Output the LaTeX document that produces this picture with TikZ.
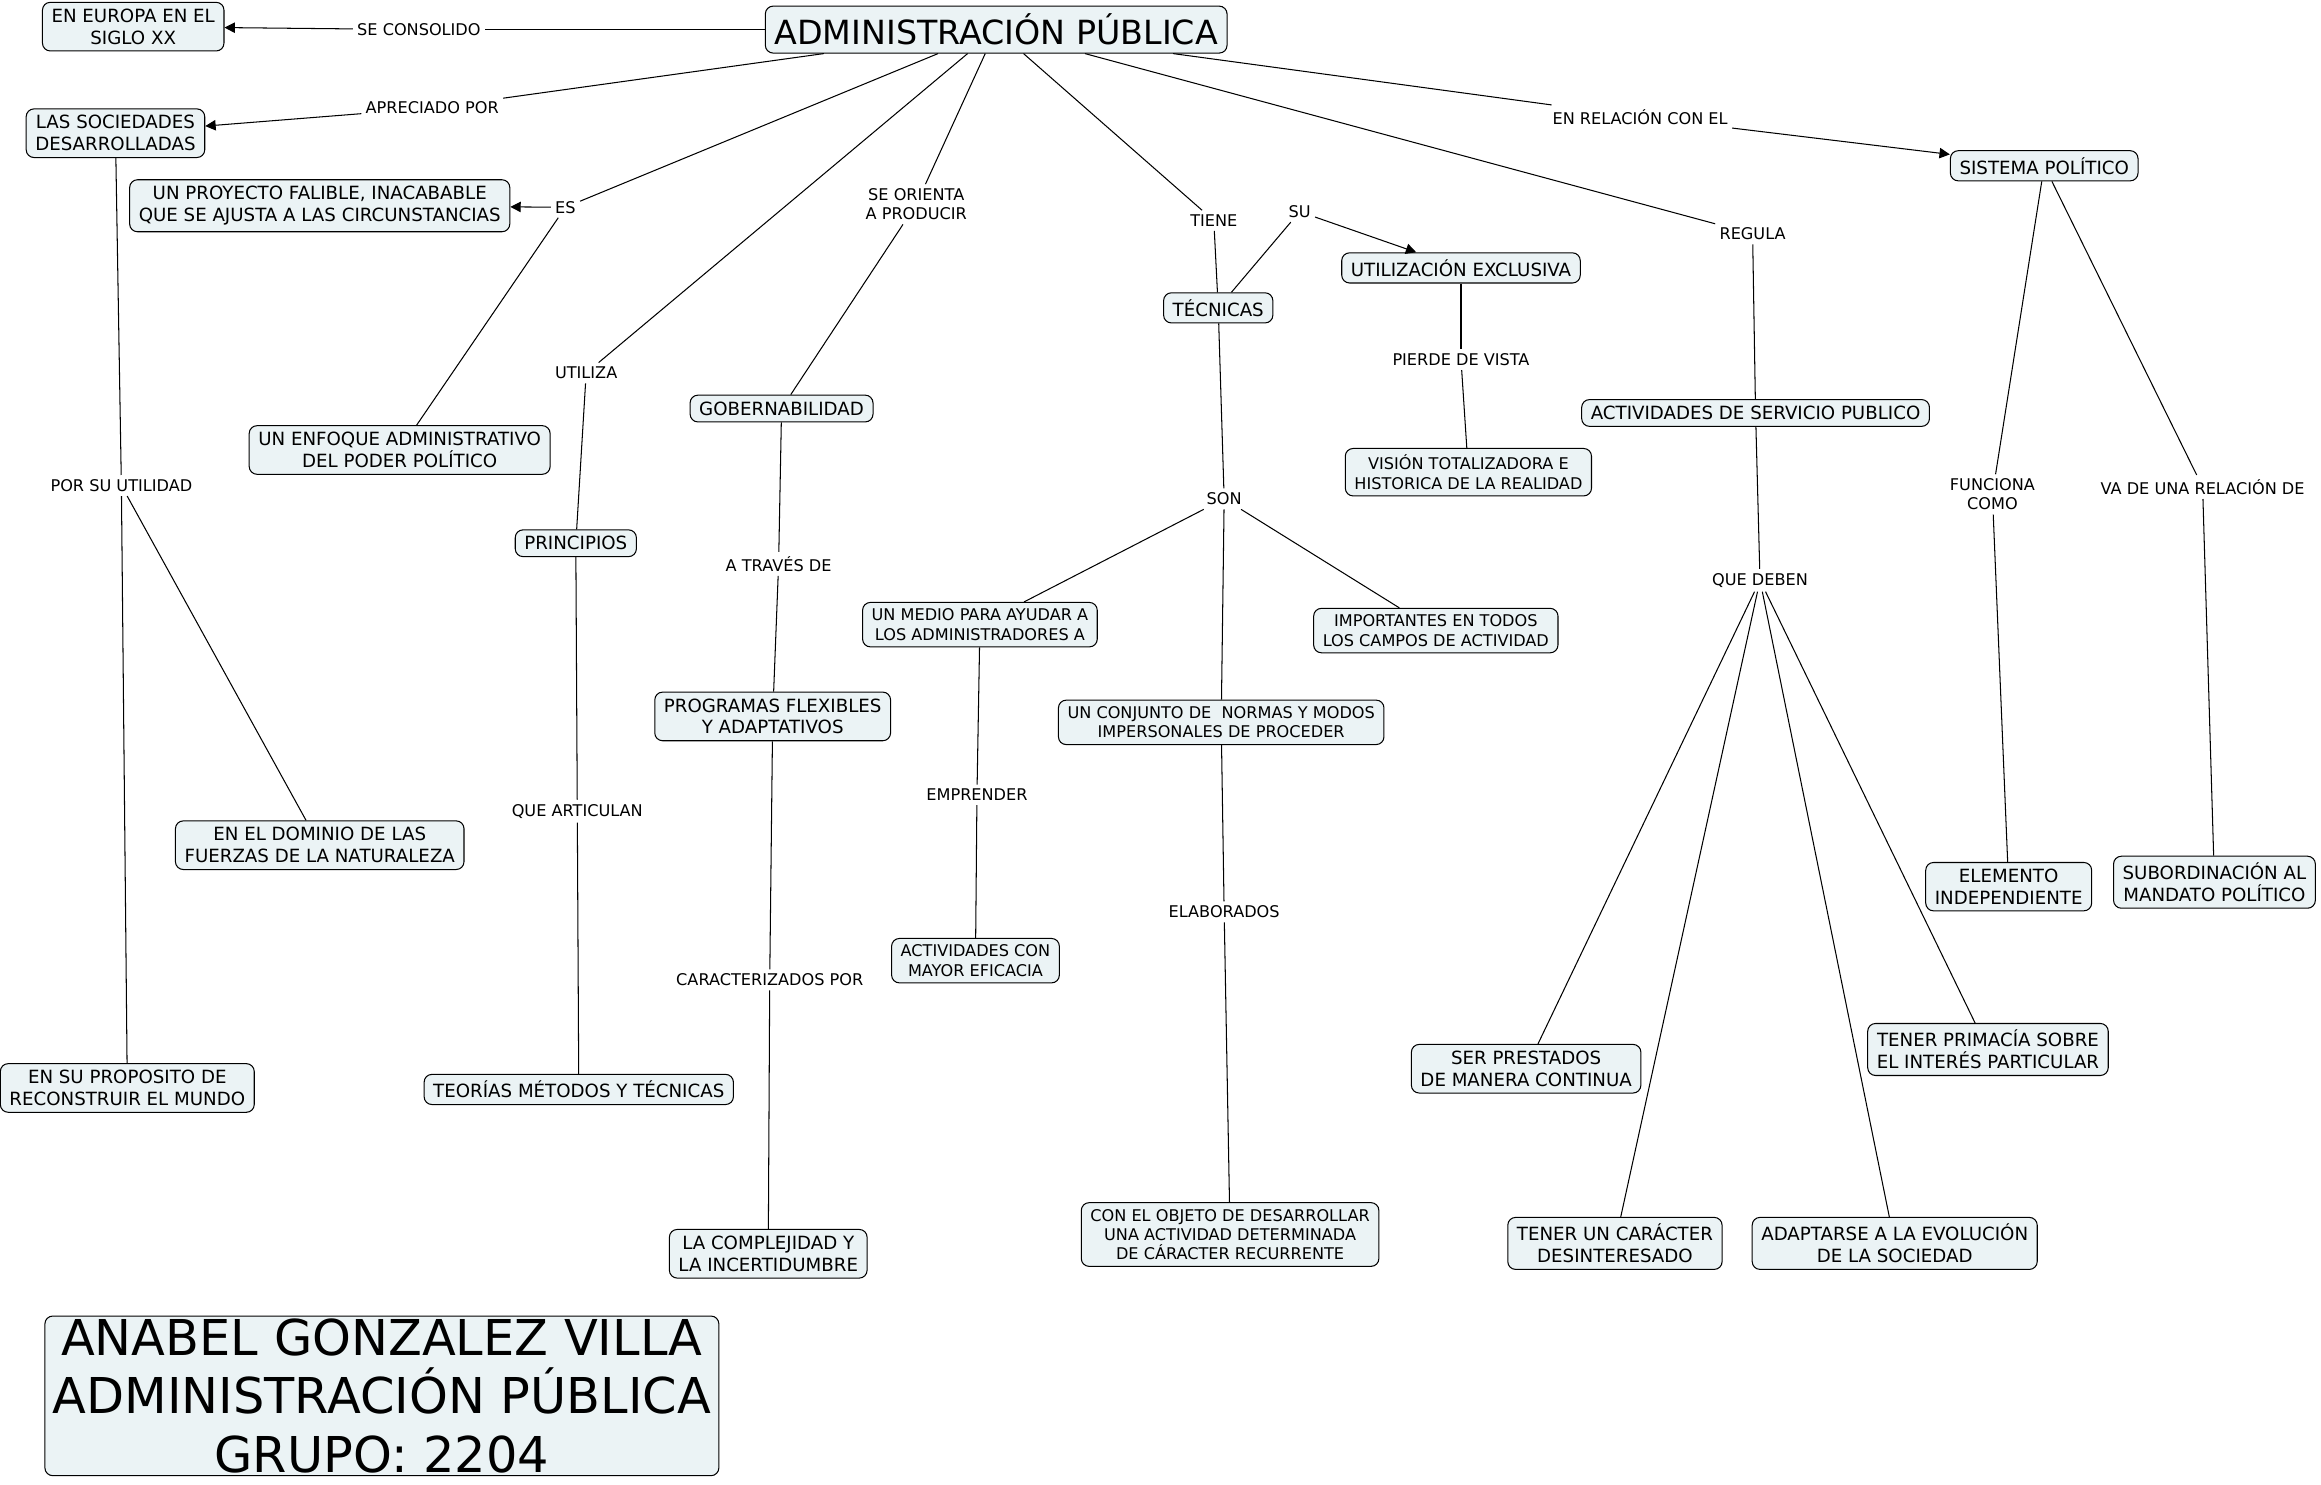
\documentclass[tikz,border=0pt]{standalone}
\usepackage{fontspec}
\setmainfont{DejaVu Sans}
\usepackage{tikz}
\usetikzlibrary{arrows.meta,positioning}
\definecolor{cmapfill}{RGB}{235,243,245}

\begin{document}
\begin{tikzpicture}[
  x=0.02cm, y=-0.02cm,
  concept/.style={rectangle, rounded corners=3pt, draw=black, fill=cmapfill, align=center, inner xsep=3.5pt, inner ysep=2.5pt, font=\fontsize{7}{8.4}\selectfont},
  small concept/.style={concept, font=\fontsize{6.2}{7.4}\selectfont},
  main concept/.style={concept, inner ysep=3pt, font=\fontsize{12.8}{15}\selectfont},
  author box/.style={concept, inner xsep=3pt, inner ysep=1pt, font=\fontsize{19}{22.5}\selectfont},
  link label/.style={align=center, inner sep=1.5pt, font=\fontsize{6.2}{7.4}\selectfont},
  >={Triangle[length=4pt,width=4pt]}
]
  \useasboundingbox (0,0) rectangle (1568,1003);

  % Concepts
  \node[main concept] (adm) at (673,20) {ADMINISTRACIÓN PÚBLICA};
  \node[concept] (europa) at (90,18) {EN EUROPA EN EL\\SIGLO XX};
  \node[concept] (soc) at (78,90) {LAS SOCIEDADES\\DESARROLLADAS};
  \node[concept] (proy) at (216,139) {UN PROYECTO FALIBLE, INACABABLE\\QUE SE AJUSTA A LAS CIRCUNSTANCIAS};
  \node[concept] (enfoque) at (270,304) {UN ENFOQUE ADMINISTRATIVO\\DEL PODER POLÍTICO};
  \node[concept] (princ) at (389,367) {PRINCIPIOS};
  \node[concept] (gob) at (528,276) {GOBERNABILIDAD};
  \node[concept] (prog) at (522,484) {PROGRAMAS FLEXIBLES\\Y ADAPTATIVOS};
  \node[concept] (compl) at (519,847) {LA COMPLEJIDAD Y\\LA INCERTIDUMBRE};
  \node[concept] (teor) at (391,736) {TEORÍAS MÉTODOS Y TÉCNICAS};
  \node[concept] (dominio) at (216,571) {EN EL DOMINIO DE LAS\\FUERZAS DE LA NATURALEZA};
  \node[concept] (proposito) at (86,735) {EN SU PROPOSITO DE\\RECONSTRUIR EL MUNDO};
  \node[concept] (tecn) at (823,208) {TÉCNICAS};
  \node[concept] (util) at (987,181) {UTILIZACIÓN EXCLUSIVA};
  \node[small concept] (vision) at (992,319) {VISIÓN TOTALIZADORA E\\HISTORICA DE LA REALIDAD};
  \node[small concept] (medio) at (662,422) {UN MEDIO PARA AYUDAR A\\LOS ADMINISTRADORES A};
  \node[small concept] (import) at (970,426) {IMPORTANTES EN TODOS\\LOS CAMPOS DE ACTIVIDAD};
  \node[small concept] (conj) at (825,488) {UN CONJUNTO DE\ \ NORMAS Y MODOS\\IMPERSONALES DE PROCEDER};
  \node[small concept] (efic) at (659,649) {ACTIVIDADES CON\\MAYOR EFICACIA};
  \node[small concept] (objeto) at (831,834) {CON EL OBJETO DE DESARROLLAR\\UNA ACTIVIDAD DETERMINADA\\DE CÁRACTER RECURRENTE};
  \node[concept] (serv) at (1186,279) {ACTIVIDADES DE SERVICIO PUBLICO};
  \node[concept] (sistema) at (1381,112) {SISTEMA POLÍTICO};
  \node[concept] (prest) at (1031,722) {SER PRESTADOS\\DE MANERA CONTINUA};
  \node[concept] (desint) at (1091,840) {TENER UN CARÁCTER\\DESINTERESADO};
  \node[concept] (adapt) at (1280,840) {ADAPTARSE A LA EVOLUCIÓN\\DE LA SOCIEDAD};
  \node[concept] (prim) at (1343,709) {TENER PRIMACÍA SOBRE\\EL INTERÉS PARTICULAR};
  \node[concept] (elem) at (1357,599) {ELEMENTO\\INDEPENDIENTE};
  \node[concept] (subord) at (1496,596) {SUBORDINACIÓN AL\\MANDATO POLÍTICO};
  \node[author box] (autor) at (258,943) {ANABEL GONZALEZ VILLA\\ADMINISTRACIÓN PÚBLICA\\GRUPO: 2204};

  % Linking phrases
  \node[link label] (consolido) at (283,20) {SE CONSOLIDO};
  \node[link label] (apreciado) at (292,73) {APRECIADO POR};
  \node[link label] (es) at (382,140) {ES};
  \node[link label] (utiliza) at (396,252) {UTILIZA};
  \node[link label] (orienta) at (619,138) {SE ORIENTA\\A PRODUCIR};
  \node[link label] (tiene) at (820,149) {TIENE};
  \node[link label] (su) at (878,143) {SU};
  \node[link label] (relacion) at (1108,79) {EN RELACIÓN CON EL};
  \node[link label] (regula) at (1184,158) {REGULA};
  \node[link label] (pierde) at (987,243) {PIERDE DE VISTA};
  \node[link label] (porsu) at (82,328) {POR SU UTILIDAD};
  \node[link label] (atraves) at (526,381) {A TRAVÉS DE};
  \node[link label] (articulan) at (390,548) {QUE ARTICULAN};
  \node[link label] (caract) at (520,662) {CARACTERIZADOS POR};
  \node[link label] (son) at (827,337) {SON};
  \node[link label] (emprender) at (660,537) {EMPRENDER};
  \node[link label] (elaborados) at (827,616) {ELABORADOS};
  \node[link label] (deben) at (1189,392) {QUE DEBEN};
  \node[link label] (funciona) at (1346,334) {FUNCIONA\\COMO};
  \node[link label] (vade) at (1488,329) {VA DE UNA RELACIÓN DE};

  % Connections from the main concept
  \draw (adm) -- (consolido);   \draw[->] (consolido) -- (europa);
  \draw (adm) -- (apreciado);   \draw[->] (apreciado) -- (soc);
  \draw (adm) -- (es);          \draw[->] (es) -- (proy);
  \draw (es) -- (enfoque);
  \draw (adm) -- (utiliza);     \draw (utiliza) -- (princ);
  \draw (adm) -- (orienta);     \draw (orienta) -- (gob);
  \draw (adm) -- (tiene);       \draw (tiene) -- (tecn);
  \draw (adm) -- (relacion);    \draw[->] (relacion) -- (sistema);
  \draw (adm) -- (regula);      \draw (regula) -- (serv);

  % Left branches
  \draw (soc) -- (porsu);
  \draw (porsu) -- (proposito);
  \draw (porsu) -- (dominio);
  \draw (princ) -- (articulan); \draw (articulan) -- (teor);
  \draw (gob) -- (atraves);     \draw (atraves) -- (prog);
  \draw (prog) -- (caract);     \draw (caract) -- (compl);

  % Tecnicas
  \draw (tecn) -- (su);         \draw[->] (su) -- (util);
  \draw (util) -- (pierde);     \draw (pierde) -- (vision);
  \draw (tecn) -- (son);
  \draw (son) -- (medio);
  \draw (son) -- (import);
  \draw (son) -- (conj);
  \draw (medio) -- (emprender); \draw (emprender) -- (efic);
  \draw (conj) -- (elaborados); \draw (elaborados) -- (objeto);

  % Servicio publico and sistema politico
  \draw (serv) -- (deben);
  \draw (deben) -- (prest);
  \draw (deben) -- (desint);
  \draw (deben) -- (adapt);
  \draw (deben) -- (prim);
  \draw (sistema) -- (funciona); \draw (funciona) -- (elem);
  \draw (sistema) -- (vade);     \draw (vade) -- (subord);
\end{tikzpicture}
\end{document}
